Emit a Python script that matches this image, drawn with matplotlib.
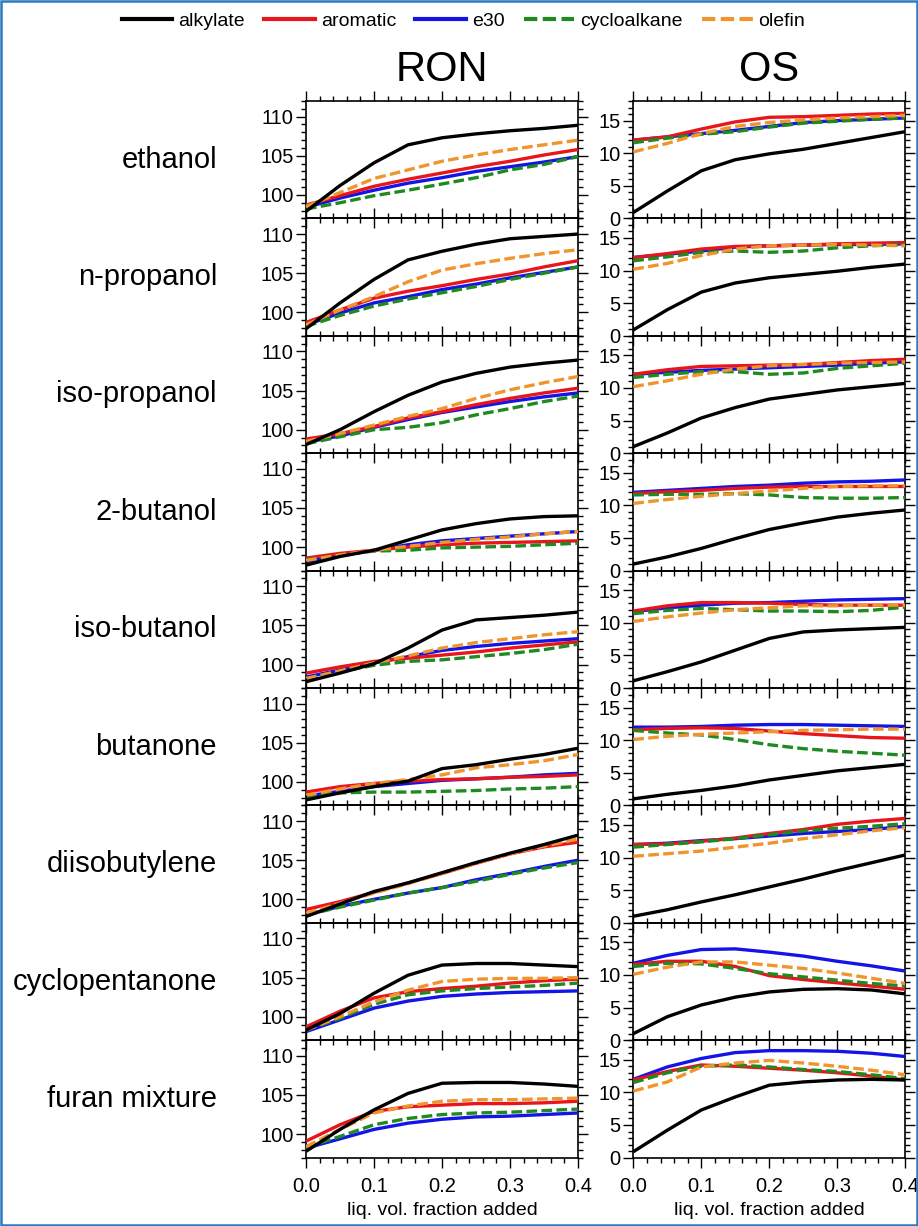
import matplotlib
matplotlib.use("Agg")
import matplotlib.pyplot as plt
from matplotlib.patches import Rectangle
from matplotlib.ticker import MultipleLocator, FormatStrFormatter
from matplotlib.lines import Line2D

plt.rcParams['font.family'] = ['Liberation Sans', 'DejaVu Sans']

# liquid volume fraction of the added component
x_frac = [0.0, 0.05, 0.10, 0.15, 0.20, 0.25, 0.30, 0.35, 0.40]

compounds = ["ethanol", "n-propanol", "iso-propanol", "2-butanol", "iso-butanol",
             "butanone", "diisobutylene", "cyclopentanone", "furan mixture"]

# Research octane number of the blend, one row per compound
ron_alkylate = [
    [97.9, 101.2, 104.1, 106.4, 107.3, 107.8, 108.2, 108.5, 108.9],
    [97.9, 101.2, 104.2, 106.7, 107.8, 108.7, 109.4, 109.7, 110.0],
    [98.1, 100.0, 102.3, 104.4, 106.1, 107.2, 108.0, 108.5, 108.9],
    [97.7, 98.8, 99.6, 100.9, 102.2, 103.0, 103.6, 103.9, 104.0],
    [97.8, 98.9, 100.1, 102.1, 104.4, 105.7, 106.0, 106.3, 106.7],
    [97.7, 98.6, 99.4, 100.1, 101.7, 102.2, 102.9, 103.5, 104.3],
    [97.8, 99.4, 101.0, 102.1, 103.4, 104.7, 105.9, 107.0, 108.2],
    [98.3, 100.4, 103.0, 105.3, 106.6, 106.8, 106.8, 106.6, 106.4],
    [97.8, 100.6, 103.1, 105.2, 106.5, 106.6, 106.6, 106.4, 106.1],
]
ron_aromatic = [
    [98.7, 99.9, 101.1, 102.0, 102.8, 103.6, 104.3, 105.1, 105.8],
    [98.7, 100.3, 101.8, 102.7, 103.4, 104.2, 104.9, 105.8, 106.6],
    [98.8, 99.5, 100.4, 101.5, 102.3, 103.2, 104.0, 104.7, 105.3],
    [98.6, 99.2, 99.6, 100.0, 100.3, 100.5, 100.6, 100.7, 100.8],
    [98.9, 99.7, 100.4, 100.8, 101.2, 101.6, 102.1, 102.5, 102.9],
    [98.7, 99.4, 99.8, 100.1, 100.3, 100.4, 100.6, 100.7, 100.9],
    [98.7, 99.7, 100.9, 102.1, 103.3, 104.6, 105.8, 106.7, 107.3],
    [98.7, 100.7, 102.4, 103.2, 103.6, 103.9, 104.3, 104.6, 104.8],
    [99.1, 101.2, 102.9, 103.5, 103.7, 103.9, 103.9, 104.0, 104.2],
]
ron_e30 = [
    [98.4, 99.6, 100.6, 101.5, 102.2, 103.0, 103.6, 104.2, 104.9],
    [98.4, 99.9, 101.2, 102.0, 102.9, 103.6, 104.4, 105.1, 105.8],
    [98.4, 99.2, 100.3, 101.3, 102.2, 102.9, 103.6, 104.2, 104.7],
    [98.1, 99.0, 99.6, 100.3, 100.8, 101.1, 101.4, 101.7, 102.0],
    [98.4, 99.3, 100.2, 101.0, 101.8, 102.3, 102.7, 103.0, 103.3],
    [98.2, 98.8, 99.4, 99.8, 100.2, 100.4, 100.6, 100.9, 101.1],
    [98.0, 99.1, 100.0, 100.8, 101.5, 102.5, 103.3, 104.2, 105.0],
    [98.1, 99.6, 101.1, 102.0, 102.6, 102.9, 103.1, 103.2, 103.3],
    [98.2, 99.4, 100.6, 101.4, 101.9, 102.2, 102.3, 102.5, 102.7],
]
ron_cycloalkane = [
    [98.2, 99.0, 99.9, 100.6, 101.4, 102.2, 103.2, 103.9, 104.9],
    [98.2, 99.6, 100.8, 101.7, 102.5, 103.3, 104.2, 105.0, 105.8],
    [98.2, 99.1, 100.0, 100.3, 100.9, 101.9, 102.7, 103.6, 104.3],
    [98.4, 99.0, 99.5, 99.6, 99.9, 100.0, 100.1, 100.3, 100.5],
    [98.2, 99.1, 99.9, 100.4, 100.6, 101.0, 101.4, 101.9, 102.6],
    [98.1, 98.6, 98.7, 98.7, 98.8, 98.9, 99.1, 99.2, 99.4],
    [98.0, 99.0, 99.9, 100.8, 101.5, 102.3, 103.2, 104.0, 104.7],
    [98.3, 99.8, 101.6, 102.8, 103.3, 103.6, 103.8, 104.0, 104.3],
    [98.3, 99.7, 101.2, 102.0, 102.5, 102.7, 102.8, 103.0, 103.2],
]
ron_olefin = [
    [98.5, 100.3, 102.1, 103.2, 104.3, 105.1, 105.8, 106.4, 107.0],
    [98.4, 100.3, 102.0, 103.9, 105.4, 106.2, 106.9, 107.5, 108.0],
    [98.5, 99.5, 100.6, 101.7, 102.7, 104.0, 105.1, 106.0, 106.8],
    [98.3, 99.0, 99.6, 100.1, 100.6, 101.0, 101.3, 101.7, 102.0],
    [98.2, 99.2, 100.2, 101.1, 102.1, 102.8, 103.3, 103.8, 104.2],
    [98.3, 99.1, 99.8, 100.3, 100.9, 101.8, 102.2, 102.7, 103.5],
    [98.2, 99.5, 100.8, 102.0, 103.3, 104.6, 105.8, 106.8, 107.7],
    [98.3, 100.0, 101.9, 103.4, 104.5, 104.8, 104.9, 104.9, 105.0],
    [98.4, 100.6, 102.7, 103.6, 104.2, 104.4, 104.4, 104.5, 104.6],
]

# Octane sensitivity of the blend, one row per compound
os_alkylate = [
    [0.9, 4.2, 7.3, 9.0, 9.9, 10.6, 11.5, 12.4, 13.3],
    [0.9, 4.0, 6.7, 8.1, 8.9, 9.4, 9.9, 10.5, 11.0],
    [1.0, 3.1, 5.4, 7.0, 8.3, 9.0, 9.7, 10.2, 10.7],
    [1.0, 2.1, 3.4, 4.9, 6.3, 7.3, 8.2, 8.8, 9.3],
    [1.1, 2.5, 4.0, 5.8, 7.6, 8.6, 8.9, 9.1, 9.3],
    [1.0, 1.7, 2.3, 3.0, 3.9, 4.6, 5.3, 5.8, 6.3],
    [1.0, 2.0, 3.2, 4.3, 5.5, 6.7, 8.0, 9.2, 10.4],
    [1.0, 3.6, 5.4, 6.6, 7.4, 7.8, 7.9, 7.7, 7.1],
    [0.9, 4.2, 7.3, 9.3, 11.1, 11.6, 11.9, 12.0, 11.9],
]
os_aromatic = [
    [12.0, 12.5, 13.7, 14.8, 15.5, 15.6, 15.8, 16.0, 16.1],
    [12.0, 12.6, 13.3, 13.7, 13.8, 13.9, 14.1, 14.2, 14.3],
    [12.1, 12.8, 13.3, 13.4, 13.5, 13.6, 13.9, 14.2, 14.4],
    [11.8, 12.1, 12.3, 12.6, 12.8, 12.9, 12.9, 12.9, 12.9],
    [11.8, 12.6, 13.1, 13.1, 13.0, 12.8, 12.7, 12.7, 12.7],
    [11.6, 11.8, 11.9, 11.8, 11.4, 11.0, 10.7, 10.4, 10.3],
    [12.0, 12.1, 12.5, 13.0, 13.7, 14.3, 15.1, 15.6, 16.0],
    [11.6, 12.1, 12.1, 11.3, 9.9, 9.3, 8.8, 8.3, 7.8],
    [11.9, 13.2, 14.2, 14.0, 13.7, 13.4, 13.0, 12.5, 11.9],
]
os_e30 = [
    [12.0, 12.5, 13.0, 13.5, 14.1, 14.7, 15.0, 15.2, 15.4],
    [12.0, 12.5, 13.0, 13.6, 13.8, 13.9, 14.0, 14.0, 14.1],
    [12.1, 12.4, 12.7, 12.9, 13.1, 13.3, 13.5, 13.8, 14.0],
    [12.0, 12.3, 12.6, 12.9, 13.1, 13.4, 13.6, 13.7, 13.9],
    [11.7, 12.3, 12.7, 13.0, 13.1, 13.3, 13.5, 13.6, 13.7],
    [12.0, 12.0, 12.1, 12.3, 12.4, 12.4, 12.3, 12.2, 12.1],
    [12.0, 12.2, 12.6, 12.9, 13.3, 13.7, 14.0, 14.3, 14.8],
    [11.8, 13.0, 13.9, 14.0, 13.5, 12.9, 12.1, 11.4, 10.6],
    [12.0, 13.9, 15.2, 16.1, 16.4, 16.4, 16.3, 16.0, 15.5],
]
os_cycloalkane = [
    [11.6, 12.3, 12.9, 13.3, 14.0, 14.6, 14.9, 15.2, 15.4],
    [11.5, 12.1, 12.8, 13.0, 12.8, 13.0, 13.5, 13.8, 14.0],
    [11.6, 12.1, 12.5, 12.5, 12.1, 12.3, 13.0, 13.4, 13.8],
    [11.6, 11.7, 11.7, 11.8, 11.6, 11.2, 11.1, 11.1, 11.2],
    [11.4, 11.9, 12.2, 12.0, 11.8, 11.8, 11.7, 11.9, 12.4],
    [11.5, 11.1, 10.8, 10.1, 9.3, 8.7, 8.3, 8.0, 7.7],
    [11.6, 12.0, 12.4, 12.9, 13.5, 14.1, 14.5, 14.8, 15.2],
    [11.3, 11.8, 11.7, 11.0, 10.2, 9.7, 9.2, 8.7, 8.3],
    [11.5, 13.0, 14.0, 14.2, 13.9, 13.5, 13.2, 12.7, 12.1],
]
os_olefin = [
    [10.2, 11.5, 13.0, 14.1, 14.7, 15.1, 15.4, 15.6, 15.8],
    [10.2, 11.1, 12.3, 13.3, 13.8, 13.9, 14.0, 13.9, 13.8],
    [10.2, 11.1, 12.1, 12.9, 13.4, 13.6, 13.8, 13.9, 14.0],
    [10.3, 10.9, 11.4, 11.8, 12.2, 12.6, 12.9, 13.0, 13.0],
    [10.2, 10.9, 11.5, 12.0, 12.3, 12.6, 12.6, 12.7, 12.7],
    [10.1, 10.6, 10.9, 11.1, 11.3, 11.5, 11.6, 11.7, 11.7],
    [10.2, 10.6, 11.0, 11.6, 12.2, 12.9, 13.5, 14.1, 14.6],
    [10.1, 11.2, 12.0, 12.0, 11.5, 11.0, 10.3, 9.5, 8.7],
    [10.2, 11.6, 13.9, 14.5, 14.9, 14.5, 14.0, 13.4, 12.7],
]

base_fuels = ["alkylate", "aromatic", "e30", "cycloalkane", "olefin"]
ron_data = [ron_alkylate, ron_aromatic, ron_e30, ron_cycloalkane, ron_olefin]
os_data = [os_alkylate, os_aromatic, os_e30, os_cycloalkane, os_olefin]

DASH = (0, (3.2, 1.3))
styles = {
    "alkylate":    dict(color="#000000", ls="-", z=6),
    "aromatic":    dict(color="#e8161c", ls="-", z=4),
    "e30":         dict(color="#1414e6", ls="-", z=3),
    "cycloalkane": dict(color="#1f8a1f", ls=DASH, z=5),
    "olefin":      dict(color="#f0952e", ls=DASH, z=5),
}
LW = 2.4

W, H = 918, 1226
fig = plt.figure(figsize=(W / 100, H / 100), dpi=100)

col_left = [306.0, 633.3]
col_width = 272.0
top_px = 101.0
row_px = 117.4


def setup_axis(ax, ylim, ymajor, last_row):
    ax.set_facecolor("none")
    ax.set_xlim(0, 0.4)
    ax.set_ylim(*ylim)
    ax.xaxis.set_major_locator(MultipleLocator(0.1))
    ax.xaxis.set_minor_locator(MultipleLocator(0.02))
    ax.yaxis.set_major_locator(MultipleLocator(ymajor))
    ax.yaxis.set_minor_locator(MultipleLocator(1))
    ax.tick_params(which="both", direction="out", top=True, right=True,
                   bottom=True, left=True, width=1.0, colors="black")
    ax.tick_params(which="major", length=7)
    ax.tick_params(which="minor", length=3.5)
    ax.tick_params(axis="y", labelsize=14.5, pad=2)
    ax.tick_params(axis="x", labelsize=14.5, pad=7, labelbottom=last_row)
    for s in ax.spines.values():
        s.set_linewidth(1.2)
    if last_row:
        ax.xaxis.set_major_formatter(FormatStrFormatter("%.1f"))
        ax.set_xlabel("liq. vol. fraction added", fontsize=14, labelpad=4)


for r, comp in enumerate(compounds):
    y0 = top_px + r * row_px
    for c, (data, ylim) in enumerate([(ron_data, (97, 112)), (os_data, (0, 18))]):
        rect = [col_left[c] / W, 1 - (y0 + row_px) / H, col_width / W, row_px / H]
        ax = fig.add_axes(rect)
        setup_axis(ax, ylim, 5, r == len(compounds) - 1)
        for name, series in zip(base_fuels, data):
            st = styles[name]
            ax.plot(x_frac, series[r], color=st["color"], ls=st["ls"], lw=LW,
                    zorder=st["z"], solid_capstyle="butt", dash_capstyle="butt",
                    solid_joinstyle="round")
    fig.text(217 / W, 1 - (y0 + row_px / 2) / H, comp, ha="right", va="center",
             fontsize=21)

# column titles
fig.text((col_left[0] + col_width / 2) / W, 1 - 70 / H, "RON", ha="center",
         va="center", fontsize=30)
fig.text((col_left[1] + col_width / 2) / W, 1 - 70 / H, "OS", ha="center",
         va="center", fontsize=30)

# legend
handles = [Line2D([], [], color=styles[n]["color"], ls=styles[n]["ls"], lw=LW + 0.6)
           for n in base_fuels]
fig.legend(handles, base_fuels, loc="center", bbox_to_anchor=(0.505, 1 - 21 / H),
           ncol=5, frameon=False, fontsize=14, handlelength=2.6,
           handletextpad=0.3, columnspacing=1.0)

# outer frame
fig.add_artist(Rectangle((1.2 / W, 1.2 / H), 1 - 2.4 / W, 1 - 2.4 / H,
                         transform=fig.transFigure, fill=False,
                         edgecolor="#2a7bbf", linewidth=1.8))

fig.savefig("out.png", dpi=100)
